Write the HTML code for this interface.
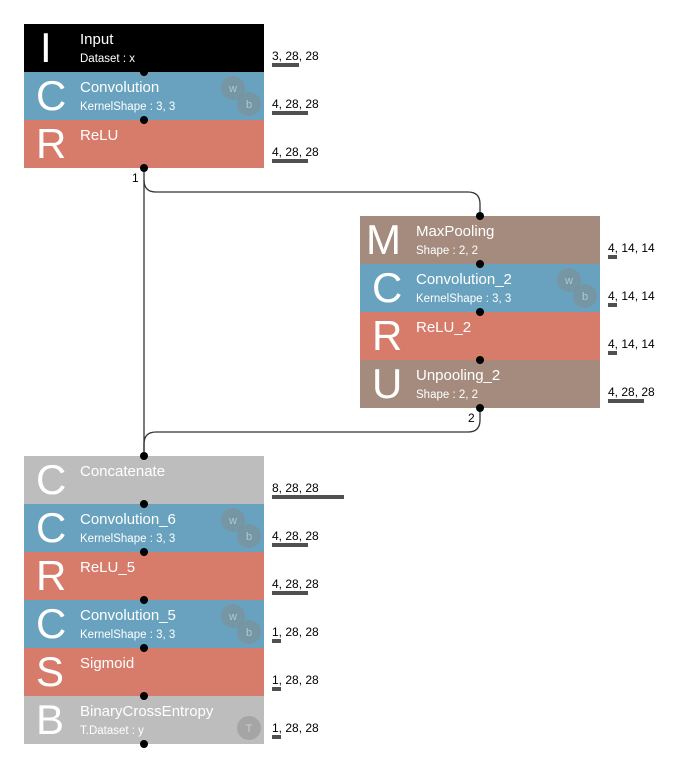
<!DOCTYPE html>
<html><head><meta charset="utf-8"><style>
html,body{margin:0;padding:0;background:#fff;}
svg{display:block;font-family:"Liberation Sans",sans-serif;}
.t{fill:#fff;font-size:15px;}
.s{fill:#fff;font-size:11.5px;}
.L{fill:#fff;font-size:42px;font-family:"Liberation Sans",sans-serif;}
.d{fill:#000;font-size:12px;}
</style></head><body>
<svg width="696" height="768" viewBox="0 0 696 768">
<g>
<rect x="24" y="24" width="240" height="48" fill="#000"/>
<rect x="24" y="72" width="240" height="48" fill="#68a2bf"/>
<rect x="24" y="120" width="240" height="48" fill="#d77b6b"/>
<rect x="360" y="216" width="240" height="48" fill="#a58b7e"/>
<rect x="360" y="264" width="240" height="48" fill="#68a2bf"/>
<rect x="360" y="312" width="240" height="48" fill="#d77b6b"/>
<rect x="360" y="360" width="240" height="48" fill="#a58b7e"/>
<rect x="24" y="456" width="240" height="48" fill="#bdbdbd"/>
<rect x="24" y="504" width="240" height="48" fill="#68a2bf"/>
<rect x="24" y="552" width="240" height="48" fill="#d77b6b"/>
<rect x="24" y="600" width="240" height="48" fill="#68a2bf"/>
<rect x="24" y="648" width="240" height="48" fill="#d77b6b"/>
<rect x="24" y="696" width="240" height="48" fill="#bdbdbd"/>
</g>
<g fill="#888" fill-opacity="0.45">
<circle cx="233" cy="88" r="12"/><circle cx="249" cy="104" r="12"/>
<circle cx="569" cy="280" r="12"/><circle cx="585" cy="296" r="12"/>
<circle cx="233" cy="520" r="12"/><circle cx="249" cy="536" r="12"/>
<circle cx="233" cy="616" r="12"/><circle cx="249" cy="632" r="12"/>
<circle cx="249" cy="728" r="12"/>
</g>
<g fill="#fff" fill-opacity="0.45" font-size="11" text-anchor="middle">
<text x="233" y="92">w</text><text x="249" y="108">b</text>
<text x="569" y="284">w</text><text x="585" y="300">b</text>
<text x="233" y="524">w</text><text x="249" y="540">b</text>
<text x="233" y="620">w</text><text x="249" y="636">b</text>
<text x="249" y="732">T</text>
</g>
<g class="L">
<text x="40" y="62">I</text>
<text x="36" y="110">C</text>
<text x="36" y="158">R</text>
<text x="366" y="254">M</text>
<text x="372" y="302">C</text>
<text x="372" y="350">R</text>
<text x="372" y="398">U</text>
<text x="36" y="494">C</text>
<text x="36" y="542">C</text>
<text x="36" y="590">R</text>
<text x="36" y="638">C</text>
<text x="36" y="686">S</text>
<text x="36" y="734">B</text>
</g>
<g class="t">
<text x="80" y="44">Input</text>
<text x="80" y="92">Convolution</text>
<text x="80" y="140">ReLU</text>
<text x="416" y="236">MaxPooling</text>
<text x="416" y="284">Convolution_2</text>
<text x="416" y="332">ReLU_2</text>
<text x="416" y="380">Unpooling_2</text>
<text x="80" y="476">Concatenate</text>
<text x="80" y="524">Convolution_6</text>
<text x="80" y="572">ReLU_5</text>
<text x="80" y="620">Convolution_5</text>
<text x="80" y="668">Sigmoid</text>
<text x="80" y="716">BinaryCrossEntropy</text>
</g>
<g class="s">
<text x="80" y="62">Dataset : x</text>
<text x="80" y="110">KernelShape : 3, 3</text>
<text x="416" y="254">Shape : 2, 2</text>
<text x="416" y="302">KernelShape : 3, 3</text>
<text x="416" y="398">Shape : 2, 2</text>
<text x="80" y="542">KernelShape : 3, 3</text>
<text x="80" y="638">KernelShape : 3, 3</text>
<text x="80" y="734">T.Dataset : y</text>
</g>
<g class="d">
<text x="272" y="60">3, 28, 28</text>
<text x="272" y="108">4, 28, 28</text>
<text x="272" y="156">4, 28, 28</text>
<text x="608" y="252">4, 14, 14</text>
<text x="608" y="300">4, 14, 14</text>
<text x="608" y="348">4, 14, 14</text>
<text x="608" y="396">4, 28, 28</text>
<text x="272" y="492">8, 28, 28</text>
<text x="272" y="540">4, 28, 28</text>
<text x="272" y="588">4, 28, 28</text>
<text x="272" y="636">1, 28, 28</text>
<text x="272" y="684">1, 28, 28</text>
<text x="272" y="732">1, 28, 28</text>
<text x="132" y="182">1</text>
<text x="468" y="422">2</text>
</g>
<g fill="#505050">
<rect x="272" y="63" width="27" height="4"/>
<rect x="272" y="111" width="36" height="4"/>
<rect x="272" y="159" width="36" height="4"/>
<rect x="608" y="255" width="9" height="4"/>
<rect x="608" y="303" width="9" height="4"/>
<rect x="608" y="351" width="9" height="4"/>
<rect x="608" y="399" width="36" height="4"/>
<rect x="272" y="495" width="72" height="4"/>
<rect x="272" y="543" width="36" height="4"/>
<rect x="272" y="591" width="36" height="4"/>
<rect x="272" y="639" width="9" height="4"/>
<rect x="272" y="687" width="9" height="4"/>
<rect x="272" y="735" width="9" height="4"/>
</g>
<g fill="none" stroke="#333" stroke-width="1.3">
<path d="M144 168 V456"/>
<path d="M144 180 Q144 192 156 192 H468 Q480 192 480 204 V216"/>
<path d="M480 408 V420 Q480 432 468 432 H156 Q144 432 144 444 V456"/>
</g>
<g fill="#000">
<circle cx="144" cy="72" r="4"/><circle cx="144" cy="120" r="4"/><circle cx="144" cy="168" r="4"/>
<circle cx="480" cy="216" r="4"/><circle cx="480" cy="264" r="4"/><circle cx="480" cy="312" r="4"/><circle cx="480" cy="360" r="4"/><circle cx="480" cy="408" r="4"/>
<circle cx="144" cy="456" r="4"/><circle cx="144" cy="504" r="4"/><circle cx="144" cy="552" r="4"/><circle cx="144" cy="600" r="4"/><circle cx="144" cy="648" r="4"/><circle cx="144" cy="696" r="4"/><circle cx="144" cy="744" r="4"/>
</g>
</svg>
</body></html>
